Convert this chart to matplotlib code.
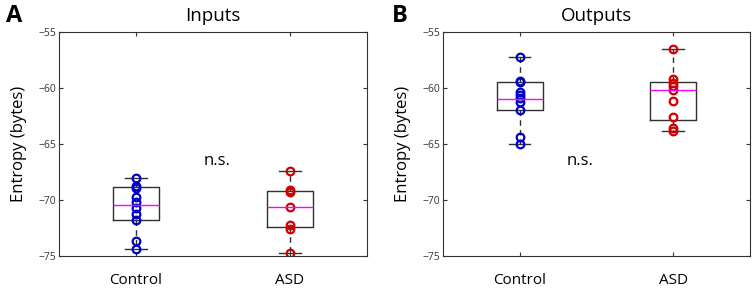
import matplotlib
matplotlib.use("Agg")
import matplotlib.pyplot as plt

plt.rcParams['font.family'] = ['Open Sans', 'DejaVu Sans']

# datos
grupos = ['Control', 'ASD']
ctrl_in = [-68.0, -68.75, -68.95, -69.7, -70.2, -70.7, -71.25, -71.8, -73.7, -74.4]
asd_in = [-67.4, -69.1, -69.3, -70.65, -72.25, -72.6, -74.7]
ctrl_out = [-57.25, -59.35, -59.5, -60.4, -60.65, -60.9, -61.25, -62.0, -64.35, -65.0]
asd_out = [-56.5, -59.2, -59.55, -59.85, -60.2, -61.2, -62.6, -63.6, -63.85]

# estadisticos de las cajas (q1, mediana, q3, bigote bajo, bigote alto)
caja_ctrl_in = [-71.8, -70.45, -68.85, -74.4, -68.0]
caja_asd_in = [-72.45, -70.65, -69.2, -74.7, -67.4]
caja_ctrl_out = [-62.0, -61.0, -59.5, -65.0, -57.25]
caja_asd_out = [-62.9, -60.15, -59.5, -63.85, -56.5]

yticks = [-75, -70, -65, -60, -55]

fig = plt.figure(figsize=(7.56, 2.88), dpi=100)
ax1 = fig.add_axes([0.078, 0.111, 0.407, 0.778])
ax2 = fig.add_axes([0.586, 0.111, 0.406, 0.778])


def panel(ax, datos, cajas, colores, titulo, letra, xletra):
    stats = []
    for c in cajas:
        stats.append(dict(q1=c[0], med=c[1], q3=c[2], whislo=c[3], whishi=c[4], fliers=[]))
    ax.bxp(stats, positions=[1, 2], widths=0.3, showfliers=False,
           boxprops=dict(color='#303030', lw=1.0),
           medianprops=dict(color='#ff00ff', lw=1.0),
           whiskerprops=dict(color='#303030', lw=1.0, linestyle=(0, (4, 3))),
           capprops=dict(color='#303030', lw=1.0), capwidths=0.14)
    for i, (d, col) in enumerate(zip(datos, colores)):
        ax.plot([i + 1] * len(d), d, 'o', mfc='none', mec=col, mew=1.6, ms=5.5)
    ax.set_xlim(0.5, 2.5)
    ax.set_ylim(-75, -55)
    ax.set_yticks(yticks)
    ax.set_yticklabels([str(v).replace('-', '\u2212') for v in yticks], fontsize=7.5, color='#333333')
    ax.set_xticks([1, 2])
    ax.set_xticklabels(grupos, fontsize=11)
    ax.tick_params(direction='in', top=True, right=True, length=3, color='#333333')
    ax.tick_params(axis='x', pad=12)
    ax.tick_params(axis='y', pad=2)
    for s in ax.spines.values():
        s.set_color('#333333')
    ax.set_ylabel('Entropy (bytes)', fontsize=12, labelpad=8)
    ax.set_title(titulo, fontsize=13.5, pad=8)
    fig.text(xletra, 0.945, letra, fontsize=17, fontweight='bold', ha='left', va='center')


panel(ax1, [ctrl_in, asd_in], [caja_ctrl_in, caja_asd_in], ['#0000c8', '#d00000'],
      'Inputs', 'A', 0.008)
panel(ax2, [ctrl_out, asd_out], [caja_ctrl_out, caja_asd_out], ['#0000c8', '#d00000'],
      'Outputs', 'B', 0.518)

ax1.text(1.53, -66.5, 'n.s.', fontsize=12, ha='center', va='center')
ax2.text(1.39, -66.5, 'n.s.', fontsize=12, ha='center', va='center')

fig.savefig('out.png', dpi=100)
